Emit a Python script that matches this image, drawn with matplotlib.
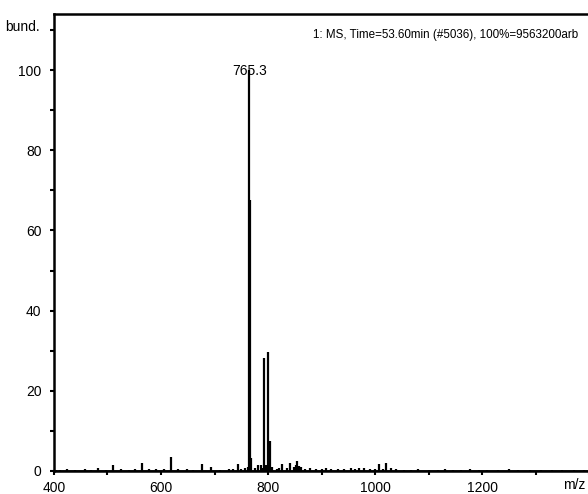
import numpy as np
import matplotlib
matplotlib.use("Agg")
import matplotlib.pyplot as plt
from matplotlib.ticker import MultipleLocator, FixedLocator

plt.rcParams['font.family'] = ['Liberation Sans', 'DejaVu Sans']

# peaks (m/z, relative abundance %)
mz = [403, 412, 425, 440, 458, 470, 483, 497, 511, 525, 540, 552, 565, 578, 590, 605,
      619, 632, 648, 660, 677, 693, 710, 727, 735, 743, 750, 757, 762, 765.3, 766.3, 768,
      775, 781, 786, 790, 792.5, 796, 800.6, 803.7, 808, 816, 820, 825.5, 835, 842, 848,
      852, 855, 858, 862, 870, 878.5, 890, 900, 908, 918, 930, 942, 954.5, 962, 970, 979,
      990, 1000, 1007.5, 1014, 1021, 1029, 1040, 1055, 1068, 1080, 1100, 1118, 1130,
      1145, 1160, 1178, 1195, 1210, 1230, 1250, 1268, 1290, 1310, 1330, 1350, 1372, 1390]
intensity = [0.3, 0.3, 0.4, 0.3, 0.4, 0.3, 0.7, 0.3, 1.5, 0.4, 0.3, 0.4, 1.9, 0.4, 0.5, 0.4,
             3.6, 0.4, 0.5, 0.3, 1.7, 1.0, 0.3, 0.6, 0.4, 1.7, 0.6, 0.8, 1.0, 100, 67.5, 3.2,
             0.8, 1.5, 1.5, 0.7, 28.2, 1.6, 29.8, 7.5, 1.0, 0.6, 0.8, 1.8, 0.8, 1.9, 1.0,
             1.4, 2.6, 1.2, 1.0, 0.6, 0.8, 0.4, 0.5, 0.8, 0.4, 0.5, 0.5, 0.7, 0.5, 0.8, 0.8,
             0.5, 0.6, 1.7, 0.5, 2.0, 0.7, 0.4, 0.3, 0.3, 0.4, 0.3, 0.3, 0.4,
             0.3, 0.3, 0.4, 0.3, 0.3, 0.3, 0.4, 0.3, 0.3, 0.3, 0.3, 0.3, 0.3, 0.3]
xticks = [400, 600, 800, 1000, 1200]

base_label = "765.3"
header = "1: MS, Time=53.60min (#5036), 100%=9563200arb"

fig = plt.figure(figsize=(5.88, 4.94), dpi=100)
ax = fig.add_axes([0.0918, 0.0466, 0.910, 0.925])

ax.vlines(mz, 0, intensity, color='black', lw=1.6)
ax.axhline(0, color='black', lw=1.2)

ax.set_xlim(400, 1400)
ax.set_ylim(0, 114)
ax.xaxis.set_major_locator(FixedLocator(xticks))
ax.xaxis.set_minor_locator(MultipleLocator(100))
ax.yaxis.set_major_locator(MultipleLocator(20))
ax.yaxis.set_minor_locator(MultipleLocator(10))
ax.tick_params(which='both', direction='out', length=3, width=1.5, labelsize=10)
ax.tick_params(axis='x', pad=4)
ax.tick_params(axis='y', pad=6)

for s in ['left', 'bottom', 'top']:
    ax.spines[s].set_linewidth(1.8)
ax.spines['right'].set_visible(False)

ax.text(765.3, 99.8, base_label, ha='center', va='center', fontsize=10)
ax.text(1380, 108.7, header, ha='right', va='center', fontsize=8.4)
fig.text(0.008, 0.945, "bund.", ha='left', va='center', fontsize=10)
fig.text(0.995, 0.018, "m/z", ha='right', va='center', fontsize=10)

fig.savefig("out.png", dpi=100)
